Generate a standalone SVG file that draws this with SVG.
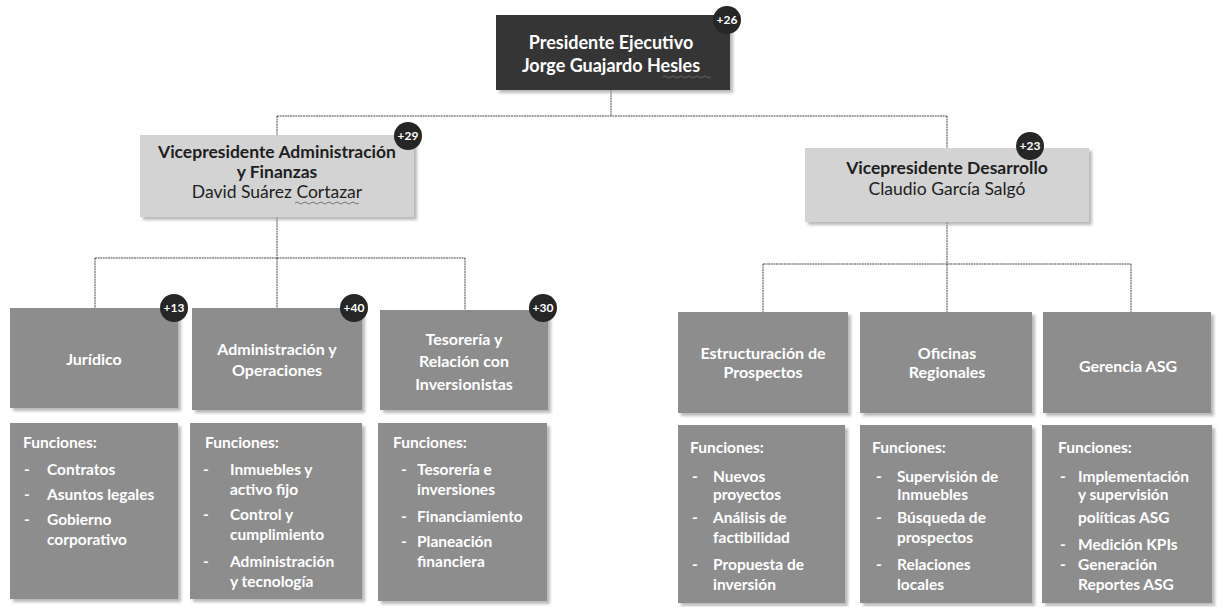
<svg xmlns="http://www.w3.org/2000/svg" width="1218" height="607" viewBox="0 0 1218 607">
  <defs>
    <filter id="shadow" x="-5%" y="-5%" width="115%" height="115%">
      <feDropShadow dx="3" dy="3" stdDeviation="1.5" flood-color="#9a9a9a" flood-opacity="0.7"/>
    </filter>
  </defs>
  <style>
    text { font-family: Lato, "Open Sans", "Liberation Sans", sans-serif; }
    .pres { fill: #363636; filter: url(#shadow); }
    .vp { fill: #d3d3d3; filter: url(#shadow); }
    .unit { fill: #8d8d8d; filter: url(#shadow); }
    .t-pres { fill: #ffffff; font-size: 18px; font-weight: bold; text-anchor: middle; }
    .t-vp { fill: #1e1e1e; font-size: 17.5px; text-anchor: middle; }
    .b { font-weight: bold; }
    .t-unit { fill: #ffffff; font-size: 16px; font-weight: bold; text-anchor: middle; }
    .t-fn { fill: #ffffff; font-size: 15.5px; font-weight: bold; }
    .badge circle { fill: #262626; }
    .badge text { fill: #ffffff; font-size: 12px; font-weight: bold; text-anchor: middle; }
    .conn { stroke: #4a4a4a; stroke-width: 1; fill: none; stroke-dasharray: 2 0.6; }
    .squiggle { stroke: #6a6a6a; stroke-width: 0.9; fill: none; }
  </style>

  <!-- reporting lines -->
  <g id="connectors">
    <path class="conn" d="M611 90 V116 M277 116 H947 M277 116 V135 M947 116 V148"/>
    <path class="conn" d="M277 215 V258 M95 258 H465 M95 258 V308 M277 258 V308 M465 258 V310"/>
    <path class="conn" d="M947 222 V264 M763 264 H1131 M763 264 V312 M947 264 V312 M1131 264 V312"/>
  </g>

  <!-- top level -->
  <g id="presidente">
    <rect class="pres" x="496" y="15" width="234" height="75"/>
    <text class="t-pres" x="611" y="49">Presidente Ejecutivo</text>
    <text class="t-pres" x="611" y="72">Jorge Guajardo Hesles</text>
    <path class="squiggle" d="M663 77 q2 -2 4 0 t4 0 t4 0 t4 0 t4 0 t4 0 t4 0 t4 0 t4 0 t4 0 t4 0 t4 0"/>
    <g class="badge"><circle cx="727" cy="20" r="14"/><text x="727" y="24">+26</text></g>
  </g>

  <!-- vice presidencies -->
  <g id="vp-administracion">
    <rect class="vp" x="140" y="135" width="274" height="82"/>
    <text class="t-vp b" x="277" y="158">Vicepresidente Administración</text>
    <text class="t-vp b" x="277" y="178">y Finanzas</text>
    <text class="t-vp" x="277" y="198">David Suárez Cortazar</text>
    <path class="squiggle" d="M295 203 q2 -2 4 0 t4 0 t4 0 t4 0 t4 0 t4 0 t4 0 t4 0 t4 0 t4 0 t4 0 t4 0 t4 0 t4 0 t4 0 t4 0"/>
    <g class="badge"><circle cx="408" cy="136" r="14"/><text x="408" y="140">+29</text></g>
  </g>

  <g id="vp-desarrollo">
    <rect class="vp" x="805" y="148" width="284" height="74"/>
    <text class="t-vp b" x="947" y="174">Vicepresidente Desarrollo</text>
    <text class="t-vp" x="947" y="195">Claudio García Salgó</text>
    <g class="badge"><circle cx="1030" cy="146" r="14"/><text x="1030" y="150">+23</text></g>
  </g>

  <!-- administration & finance units -->
  <g id="juridico">
    <rect class="unit" x="10" y="308" width="168" height="100"/>
    <text class="t-unit" x="94" y="365">Jurídico</text>
    <g class="badge"><circle cx="174" cy="308" r="14"/><text x="174" y="312">+13</text></g>
    <rect class="unit" x="10" y="423" width="168" height="176"/>
    <text class="t-fn">
      <tspan x="23" y="448">Funciones:</tspan>
      <tspan x="24" y="475">-</tspan><tspan x="47" y="475">Contratos</tspan>
      <tspan x="24" y="500">-</tspan><tspan x="47" y="500">Asuntos legales</tspan>
      <tspan x="24" y="525">-</tspan><tspan x="47" y="525">Gobierno</tspan>
      <tspan x="47" y="545">corporativo</tspan>
    </text>
  </g>

  <g id="administracion-operaciones">
    <rect class="unit" x="192" y="308" width="170" height="102"/>
    <text class="t-unit" x="277" y="355">Administración y</text>
    <text class="t-unit" x="277" y="376">Operaciones</text>
    <g class="badge"><circle cx="354" cy="308" r="14"/><text x="354" y="312">+40</text></g>
    <rect class="unit" x="190" y="423" width="172" height="176"/>
    <text class="t-fn">
      <tspan x="205" y="448">Funciones:</tspan>
      <tspan x="203" y="475">-</tspan><tspan x="230" y="475">Inmuebles y</tspan>
      <tspan x="230" y="495">activo fijo</tspan>
      <tspan x="203" y="520">-</tspan><tspan x="230" y="520">Control y</tspan>
      <tspan x="230" y="540">cumplimiento</tspan>
      <tspan x="203" y="567">-</tspan><tspan x="230" y="567">Administración</tspan>
      <tspan x="230" y="587">y tecnología</tspan>
    </text>
  </g>

  <g id="tesoreria">
    <rect class="unit" x="380" y="310" width="168" height="100"/>
    <text class="t-unit" x="464" y="345">Tesorería y</text>
    <text class="t-unit" x="464" y="367">Relación con</text>
    <text class="t-unit" x="464" y="390">Inversionistas</text>
    <g class="badge"><circle cx="543" cy="308" r="14"/><text x="543" y="312">+30</text></g>
    <rect class="unit" x="378" y="423" width="169" height="178"/>
    <text class="t-fn">
      <tspan x="393" y="448">Funciones:</tspan>
      <tspan x="401" y="475">-</tspan><tspan x="417" y="475">Tesorería e</tspan>
      <tspan x="417" y="495">inversiones</tspan>
      <tspan x="401" y="522">-</tspan><tspan x="417" y="522">Financiamiento</tspan>
      <tspan x="401" y="547">-</tspan><tspan x="417" y="547">Planeación</tspan>
      <tspan x="417" y="567">financiera</tspan>
    </text>
  </g>

  <!-- development units -->
  <g id="estructuracion">
    <rect class="unit" x="678" y="312" width="170" height="101"/>
    <text class="t-unit" x="763" y="359">Estructuración de</text>
    <text class="t-unit" x="763" y="378">Prospectos</text>
    <rect class="unit" x="678" y="425" width="167" height="178"/>
    <text class="t-fn">
      <tspan x="690" y="453">Funciones:</tspan>
      <tspan x="692" y="482">-</tspan><tspan x="713" y="482">Nuevos</tspan>
      <tspan x="713" y="500">proyectos</tspan>
      <tspan x="692" y="523">-</tspan><tspan x="713" y="523">Análisis de</tspan>
      <tspan x="713" y="543">factibilidad</tspan>
      <tspan x="692" y="570">-</tspan><tspan x="713" y="570">Propuesta de</tspan>
      <tspan x="713" y="590">inversión</tspan>
    </text>
  </g>

  <g id="oficinas-regionales">
    <rect class="unit" x="860" y="312" width="172" height="101"/>
    <text class="t-unit" x="947" y="359">Oficinas</text>
    <text class="t-unit" x="947" y="378">Regionales</text>
    <rect class="unit" x="860" y="425" width="172" height="178"/>
    <text class="t-fn">
      <tspan x="872" y="453">Funciones:</tspan>
      <tspan x="876" y="482">-</tspan><tspan x="897" y="482">Supervisión de</tspan>
      <tspan x="897" y="500">Inmuebles</tspan>
      <tspan x="876" y="523">-</tspan><tspan x="897" y="523">Búsqueda de</tspan>
      <tspan x="897" y="543">prospectos</tspan>
      <tspan x="876" y="570">-</tspan><tspan x="897" y="570">Relaciones</tspan>
      <tspan x="897" y="590">locales</tspan>
    </text>
  </g>

  <g id="gerencia-asg">
    <rect class="unit" x="1043" y="312" width="168" height="101"/>
    <text class="t-unit" x="1128" y="372">Gerencia ASG</text>
    <rect class="unit" x="1042" y="425" width="170" height="178"/>
    <text class="t-fn">
      <tspan x="1058" y="453">Funciones:</tspan>
      <tspan x="1060" y="482">-</tspan><tspan x="1078" y="482">Implementación</tspan>
      <tspan x="1078" y="500">y supervisión</tspan>
      <tspan x="1078" y="523">políticas ASG</tspan>
      <tspan x="1060" y="550">-</tspan><tspan x="1078" y="550">Medición KPIs</tspan>
      <tspan x="1060" y="570">-</tspan><tspan x="1078" y="570">Generación</tspan>
      <tspan x="1078" y="590">Reportes ASG</tspan>
    </text>
  </g>
</svg>
